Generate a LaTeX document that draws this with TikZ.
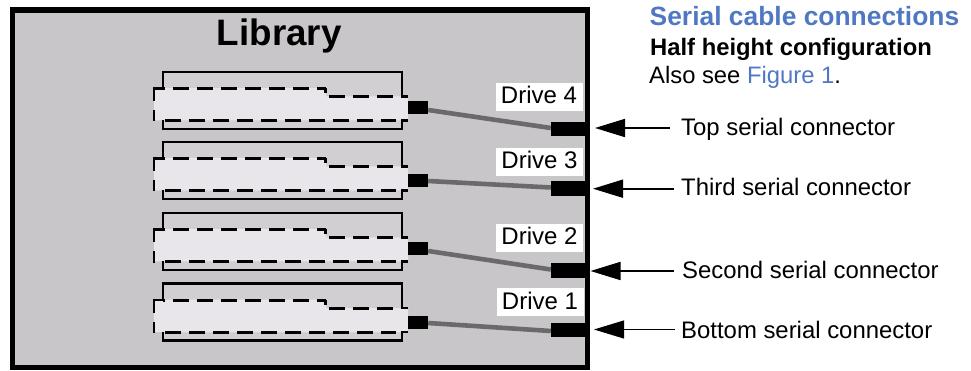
\documentclass[tikz,border=0pt]{standalone}
\usepackage{fontspec}
\setmainfont{Liberation Sans}
\usetikzlibrary{arrows.meta}
\definecolor{libbg}{HTML}{C8C6C9}
\definecolor{bayfill}{HTML}{D1CFD2}
\definecolor{trayfill}{HTML}{E8E6EA}
\definecolor{cablegray}{HTML}{6A6A6A}
\definecolor{titleblue}{HTML}{5078C2}
\tikzset{
  x=1pt,y=-1pt,
  frame/.style={draw=black,line width=5.4pt,fill=libbg},
  solidline/.style={draw=black,line width=2.5pt},
  dashline/.style={draw=black,line width=3pt,dash pattern=on 16pt off 8pt},
  smallconn/.style={fill=black,minimum width=20pt,minimum height=13pt,inner sep=0pt},
  largeconn/.style={fill=black,minimum width=34pt,minimum height=14.5pt,inner sep=0pt},
  cable/.style={draw=cablegray,line width=4.6pt},
  drivelabel/.style={fill=white,minimum width=87pt,minimum height=28pt,inner sep=0pt,text height=18pt,text depth=4pt,font=\fontsize{24}{26}\selectfont},
  calllabel/.style={anchor=base west,inner sep=0pt,font=\fontsize{23.9}{26}\selectfont},
  pointer/.style={draw=black,line width=1.7pt,-{Triangle[length=30pt,width=18pt]}},
}
\newcommand{\drivebay}[1]{%
  \begin{scope}[yshift=-#1pt]
    \fill[bayfill] (163,72) rectangle (402,129);
    \fill[trayfill] (154,88) -- (326,88) -- (326,96.5) -- (408,96.5) -- (408,120.5) -- (154,120.5) -- cycle;
    \draw[solidline] (153,88.5) -- (163,88.5) -- (163,72) -- (402,72) -- (402,96.5) -- (408,96.5);
    \draw[solidline] (408,120.5) -- (402,120.5) -- (402,129) -- (163,129) -- (163,120.5);
    \draw[dashline,dash phase=14pt] (163,88.5) -- (309,88.5);
    \draw[dashline,dash pattern=on 9pt off 1pt] (317,88.5) -- (326,88.5);
    \draw[solidline] (325.5,88.5) -- (325.5,93);
    \draw[dashline] (329,96.5) -- (393,96.5);
    \draw[dashline] (165,120.5) -- (396,120.5);
    \draw[solidline] (154,87) -- (154,101.5);
    \draw[solidline] (154,110) -- (154,121.5);
  \end{scope}}
\begin{document}
\begin{tikzpicture}
\useasboundingbox (0,0) rectangle (971,371);
\draw[frame] (12.6,10) rectangle (587.5,367.3);
\drivebay{0}
\drivebay{70}
\drivebay{141}
\drivebay{211.5}
\node[font=\bfseries\fontsize{36.8}{38}\selectfont,anchor=base,inner sep=0pt] (library) at (279.3,46) {Library};
% drive labels
\node[drivelabel] (d4) at (539,97) {Drive 4};
\node[drivelabel] (d3) at (539.5,162) {Drive 3};
\node[drivelabel] (d2) at (539.5,238) {Drive 2};
\node[drivelabel] (d1) at (540,302) {Drive 1};
% connectors
\node[smallconn] (s4) at (418,108) {};
\node[smallconn] (s3) at (418,180.5) {};
\node[smallconn] (s2) at (418,249) {};
\node[smallconn] (s1) at (418,322.5) {};
\node[largeconn] (l4) at (568,129) {};
\node[largeconn] (l3) at (568,188.5) {};
\node[largeconn] (l2) at (568,270.5) {};
\node[largeconn] (l1) at (568,330) {};
\draw[cable] ([yshift=-2pt]s4.east) -- ([yshift=1pt]l4.west);
\draw[cable] ([yshift=-.5pt]s3.east) -- ([yshift=1pt]l3.west);
\draw[cable] ([yshift=-2pt]s2.east) -- ([yshift=1pt]l2.west);
\draw[cable] ([yshift=-.5pt]s1.east) -- ([yshift=-1pt]l1.west);
% call-outs
\node[calllabel] (c4) at (681,136) {Top serial connector};
\node[calllabel] (c3) at (681,196) {Third serial connector};
\node[calllabel] (c2) at (682,278) {Second serial connector};
\node[calllabel] (c1) at (681,338) {Bottom serial connector};
\coordinate (t4) at (595,128);
\coordinate (t3) at (593,188.7);
\coordinate (t2) at (590.5,271);
\coordinate (t1) at (594,329.5);
\draw[pointer] (669.5,128) -- (t4);
\draw[pointer] (673.5,188.7) -- (t3);
\draw[pointer] (673.5,271) -- (t2);
\draw[pointer,line width=1pt] (675,329.5) -- (t1);
% heading
\node[anchor=base west,inner sep=0pt,text=titleblue,font=\bfseries\fontsize{26.4}{28}\selectfont] (title) at (649.5,26) {Serial cable connections};
\node[anchor=base west,inner sep=0pt,font=\bfseries\fontsize{23.8}{26}\selectfont] (sub) at (650,56) {Half height configuration};
\node[anchor=base west,inner sep=0pt,font=\fontsize{23.8}{26}\selectfont] (also) at (649,83.5) {Also see \textcolor{titleblue}{Figure 1}.};
\end{tikzpicture}
\end{document}
